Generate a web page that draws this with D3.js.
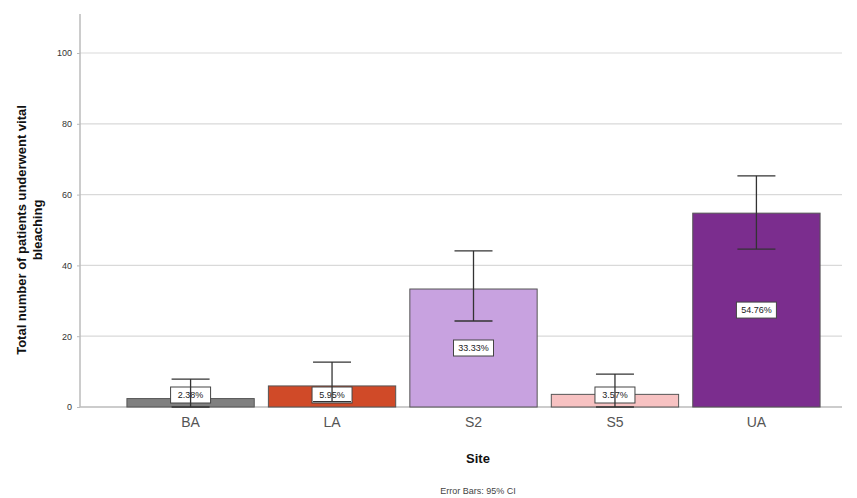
<!DOCTYPE html>
<html>
<head>
<meta charset="utf-8">
<script src="https://cdn.jsdelivr.net/npm/d3@7"></script>
<style>
  html, body { margin: 0; padding: 0; background: #fff; }
  svg { display: block; font-family: Arial, "Liberation Sans", sans-serif; }
</style>
</head>
<body>
<svg id="chart" width="857" height="498"></svg>
<script>
// Sites and percentage of patients who underwent vital bleaching
const sites = ["BA", "LA", "S2", "S5", "UA"];
const percents = [2.38, 5.95, 33.33, 3.57, 54.76];
const ciLower = [0, 1.5, 24.3, 0, 44.6];
const ciUpper = [7.9, 12.7, 44.1, 9.3, 65.3];
const barColors = ["#808080", "#d04a28", "#c8a2e0", "#f7c2c2", "#7b2d8e"];
const yTicks = [0, 20, 40, 60, 80, 100];

const svg = d3.select("#chart");

const plot = { left: 80, right: 842, top: 14, bottom: 407 };

const y = d3.scaleLinear().domain([0, 100]).range([plot.bottom, 53]);

const x = d3.scaleBand()
  .domain(sites)
  .range([105, plot.right])
  .paddingInner(0.1)
  .paddingOuter(0.155);

// Horizontal gridlines
svg.append("g")
  .selectAll("line")
  .data(yTicks.filter(d => d > 0))
  .join("line")
  .attr("x1", plot.left).attr("x2", plot.right)
  .attr("y1", d => y(d)).attr("y2", d => y(d))
  .attr("stroke", "#d9d9d9").attr("stroke-width", 1.2);

// Y axis
const yAxis = svg.append("g")
  .attr("transform", `translate(${plot.left},0)`)
  .call(d3.axisLeft(y).tickValues(yTicks).tickSize(3).tickPadding(5));
yAxis.select(".domain").remove();
yAxis.selectAll(".tick line").attr("stroke", "#bbb");
yAxis.selectAll(".tick text").attr("fill", "#333").style("font-size", "9px");
svg.append("line")
  .attr("x1", plot.left).attr("x2", plot.left)
  .attr("y1", plot.top).attr("y2", plot.bottom)
  .attr("stroke", "#bbb").attr("stroke-width", 1.5);

// X axis
const xAxis = svg.append("g")
  .attr("transform", `translate(0,${plot.bottom})`)
  .call(d3.axisBottom(x).tickSize(0).tickPadding(10));
xAxis.select(".domain").remove();
svg.append("line")
  .attr("x1", plot.left).attr("x2", plot.right)
  .attr("y1", plot.bottom).attr("y2", plot.bottom)
  .attr("stroke", "#bbb").attr("stroke-width", 1.5);
xAxis.selectAll(".tick text").attr("fill", "#555").style("font-size", "14px");

// Bars
svg.append("g")
  .selectAll("rect")
  .data(sites)
  .join("rect")
  .attr("x", d => x(d))
  .attr("width", x.bandwidth())
  .attr("y", (d, i) => y(percents[i]))
  .attr("height", (d, i) => y(0) - y(percents[i]))
  .attr("fill", (d, i) => barColors[i])
  .attr("stroke", "#555").attr("stroke-width", 1);

// Value labels, centred in the bar but kept above the baseline
const boxW = 40, boxH = 16;
const labelY = v => Math.min(y(v / 2), plot.bottom - boxH / 2 - 4);
const labels = svg.append("g")
  .selectAll("g")
  .data(sites)
  .join("g")
  .attr("transform", (d, i) => `translate(${x(d) + x.bandwidth() / 2},${labelY(percents[i])})`);
labels.append("rect")
  .attr("x", -boxW / 2).attr("y", -boxH / 2).attr("width", boxW).attr("height", boxH)
  .attr("fill", "#fff").attr("stroke", "#444").attr("stroke-width", 1);
labels.append("text")
  .attr("text-anchor", "middle").attr("dy", "0.35em")
  .style("font-size", "9px").attr("fill", "#222")
  .text((d, i) => percents[i].toFixed(2) + "%");

// Error bars (95% CI)
const capHalf = 19;
const err = svg.append("g").attr("stroke", "#333").attr("stroke-width", 1.3);
sites.forEach((s, i) => {
  const cx = x(s) + x.bandwidth() / 2;
  err.append("line").attr("x1", cx).attr("x2", cx)
    .attr("y1", y(ciUpper[i])).attr("y2", y(ciLower[i]));
  err.append("line").attr("x1", cx - capHalf).attr("x2", cx + capHalf)
    .attr("y1", y(ciUpper[i])).attr("y2", y(ciUpper[i]));
  err.append("line").attr("x1", cx - capHalf).attr("x2", cx + capHalf)
    .attr("y1", y(ciLower[i])).attr("y2", y(ciLower[i]));
});

// Axis titles
svg.append("text")
  .attr("transform", "translate(29,230) rotate(-90)")
  .attr("text-anchor", "middle")
  .style("font-size", "13px").style("font-weight", "bold").attr("fill", "#111")
  .selectAll("tspan")
  .data(["Total number of patients underwent vital", "bleaching"])
  .join("tspan")
  .attr("x", 0)
  .attr("dy", (d, i) => i === 0 ? "-0.2em" : "1.2em")
  .text(d => d);

svg.append("text")
  .attr("x", 478).attr("y", 463)
  .attr("text-anchor", "middle")
  .style("font-size", "13px").style("font-weight", "bold").attr("fill", "#111")
  .text("Site");

svg.append("text")
  .attr("x", 478).attr("y", 494)
  .attr("text-anchor", "middle")
  .style("font-size", "9px").attr("fill", "#444")
  .text("Error Bars: 95% CI");
</script>
</body>
</html>
